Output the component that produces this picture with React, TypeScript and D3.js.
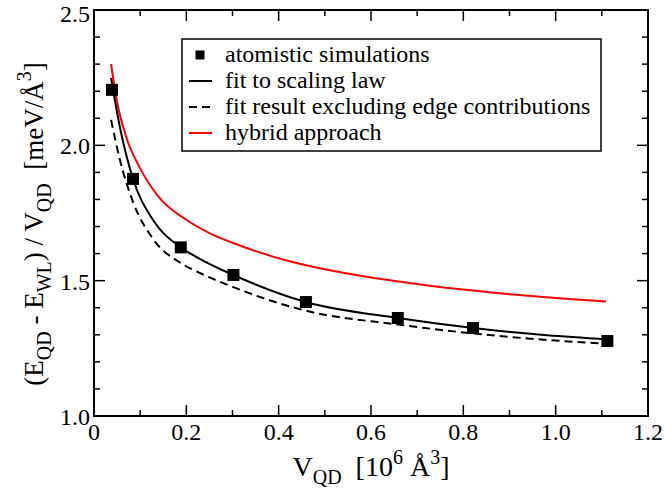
import * as d3 from 'd3'

const width = 664
const height = 491
const margin = { left: 94, right: 16, top: 10, bottom: 75 }

// atomistic simulations (squares)
const simX = [0.039, 0.0845, 0.188, 0.302, 0.459, 0.658, 0.821, 1.112]
const simY = [2.205, 1.876, 1.623, 1.521, 1.421, 1.362, 1.325, 1.277]

// fit to scaling law (solid)
const fitX = [0.037, 0.056, 0.0845, 0.128, 0.188, 0.23, 0.302, 0.459, 0.658, 0.821, 0.981, 1.113]
const fitY = [2.249, 2.068, 1.876, 1.724, 1.623, 1.58, 1.521, 1.421, 1.362, 1.325, 1.298, 1.283]

// fit excluding edge contributions (dashed)
const noEdgeX = [0.037, 0.056, 0.0845, 0.128, 0.188, 0.23, 0.302, 0.459, 0.658, 0.821, 0.981, 1.113]
const noEdgeY = [2.094, 1.948, 1.791, 1.654, 1.565, 1.528, 1.476, 1.389, 1.338, 1.305, 1.281, 1.267]

// hybrid approach (red)
const hybridX = [0.037, 0.05, 0.07, 0.1, 0.14, 0.2, 0.25, 0.3, 0.4, 0.5, 0.6, 0.7, 0.8, 0.9, 1.0, 1.109]
const hybridY = [2.3, 2.16, 2.03, 1.915, 1.81, 1.725, 1.676, 1.64, 1.583, 1.542, 1.512, 1.488, 1.467, 1.45, 1.436, 1.423]

const xTicks = [0, 0.2, 0.4, 0.6, 0.8, 1.0, 1.2]
const xMinor = [0.1, 0.3, 0.5, 0.7, 0.9, 1.1]
const yTicks = [1.0, 1.5, 2.0, 2.5]
const yMinor = [1.1, 1.2, 1.3, 1.4, 1.6, 1.7, 1.8, 1.9, 2.1, 2.2, 2.3, 2.4]

const legendItems = ['atomistic simulations', 'fit to scaling law', 'fit result excluding edge contributions', 'hybrid approach']

const font = '"Liberation Serif", "Times New Roman", serif'

export default function App() {
  const x = d3.scaleLinear().domain([0, 1.2]).range([margin.left, width - margin.right])
  const y = d3.scaleLinear().domain([1.0, 2.5]).range([height - margin.bottom, margin.top])
  const x0 = x.range()[0]
  const x1 = x.range()[1]
  const y0 = y.range()[0]
  const y1 = y.range()[1]

  const line = d3
    .line<[number, number]>()
    .x((d) => x(d[0]))
    .y((d) => y(d[1]))
    .curve(d3.curveMonotoneX)

  const zip = (a: number[], b: number[]) => a.map((v, i) => [v, b[i]] as [number, number])

  const major = 11
  const minor = 6
  const sq = 12

  const legendRows = [55, 81, 107, 133]

  return (
    <svg
      width={width}
      height={height}
      style={{ position: 'absolute', left: 0, top: 0, background: '#fff' }}
      fontFamily={font}
    >
      {/* ticks, inward on all four sides */}
      <g stroke="#000" strokeWidth={1.5}>
        {xTicks.map((t) => (
          <g key={'xt' + t}>
            <line x1={x(t)} x2={x(t)} y1={y0} y2={y0 - major} />
            <line x1={x(t)} x2={x(t)} y1={y1} y2={y1 + major} />
          </g>
        ))}
        {xMinor.map((t) => (
          <g key={'xm' + t}>
            <line x1={x(t)} x2={x(t)} y1={y0} y2={y0 - minor} />
            <line x1={x(t)} x2={x(t)} y1={y1} y2={y1 + minor} />
          </g>
        ))}
        {yTicks.map((t) => (
          <g key={'yt' + t}>
            <line x1={x0} x2={x0 + major} y1={y(t)} y2={y(t)} />
            <line x1={x1} x2={x1 - major} y1={y(t)} y2={y(t)} />
          </g>
        ))}
        {yMinor.map((t) => (
          <g key={'ym' + t}>
            <line x1={x0} x2={x0 + minor} y1={y(t)} y2={y(t)} />
            <line x1={x1} x2={x1 - minor} y1={y(t)} y2={y(t)} />
          </g>
        ))}
      </g>

      {/* curves */}
      <path d={line(zip(hybridX, hybridY)) || ''} fill="none" stroke="#f00" strokeWidth={2} />
      <path d={line(zip(noEdgeX, noEdgeY)) || ''} fill="none" stroke="#000" strokeWidth={2} strokeDasharray="8,5" />
      <path d={line(zip(fitX, fitY)) || ''} fill="none" stroke="#000" strokeWidth={2} />
      {simX.map((v, i) => (
        <rect key={'s' + i} x={x(v) - sq / 2} y={y(simY[i]) - sq / 2} width={sq} height={sq} fill="#000" />
      ))}

      {/* frame */}
      <rect x={x0} y={y1} width={x1 - x0} height={y0 - y1} fill="none" stroke="#000" strokeWidth={2} />

      {/* tick labels */}
      <g fontSize={24} fill="#000">
        {xTicks.map((t) => (
          <text key={'xl' + t} x={x(t)} y={y0 + 24} textAnchor="middle">
            {t === 0 ? '0' : d3.format('.1f')(t)}
          </text>
        ))}
        {yTicks.map((t) => (
          <text key={'yl' + t} x={x0 - 4} y={Math.max(y(t) + 9, 22)} textAnchor="end">
            {d3.format('.1f')(t)}
          </text>
        ))}
      </g>

      {/* legend */}
      <rect x={182} y={39} width={419} height={112} fill="#fff" stroke="#000" strokeWidth={1.5} />
      <rect x={200 - 4.5} y={legendRows[0] - 4.5} width={9} height={9} fill="#000" />
      <line x1={189} x2={212} y1={legendRows[1]} y2={legendRows[1]} stroke="#000" strokeWidth={2} />
      <line x1={189} x2={212} y1={legendRows[2]} y2={legendRows[2]} stroke="#000" strokeWidth={2} strokeDasharray="8,5" />
      <line x1={189} x2={212} y1={legendRows[3]} y2={legendRows[3]} stroke="#f00" strokeWidth={2} />
      <g fontSize={24} fill="#000">
        {legendItems.map((s, i) => (
          <text key={s} x={225} y={legendRows[i] + 7}>
            {s}
          </text>
        ))}
      </g>

      {/* x axis label */}
      <text x={(x0 + x1) / 2} y={476} textAnchor="middle" fontSize={28}>
        V<tspan fontSize={20} dy={8}>QD</tspan>
        <tspan dy={-8}>{'\u00a0 [10'}</tspan>
        <tspan fontSize={20} dy={-12}>6</tspan>
        <tspan dy={12}>{'\u00a0Å'}</tspan>
        <tspan fontSize={20} dy={-12}>3</tspan>
        <tspan dy={12}>]</tspan>
      </text>

      {/* y axis label */}
      <text transform="translate(43,224) rotate(-90)" textAnchor="middle" fontSize={27}>
        (E<tspan fontSize={20} dy={8}>QD</tspan>
        <tspan dy={-8}>{' - E'}</tspan>
        <tspan fontSize={20} dy={8}>WL</tspan>
        <tspan dy={-8}>{') / V'}</tspan>
        <tspan fontSize={20} dy={8}>QD</tspan>
        <tspan dy={-8}>{'\u00a0 [meV/Å'}</tspan>
        <tspan fontSize={20} dy={-12}>3</tspan>
        <tspan dy={12}>]</tspan>
      </text>
    </svg>
  )
}
